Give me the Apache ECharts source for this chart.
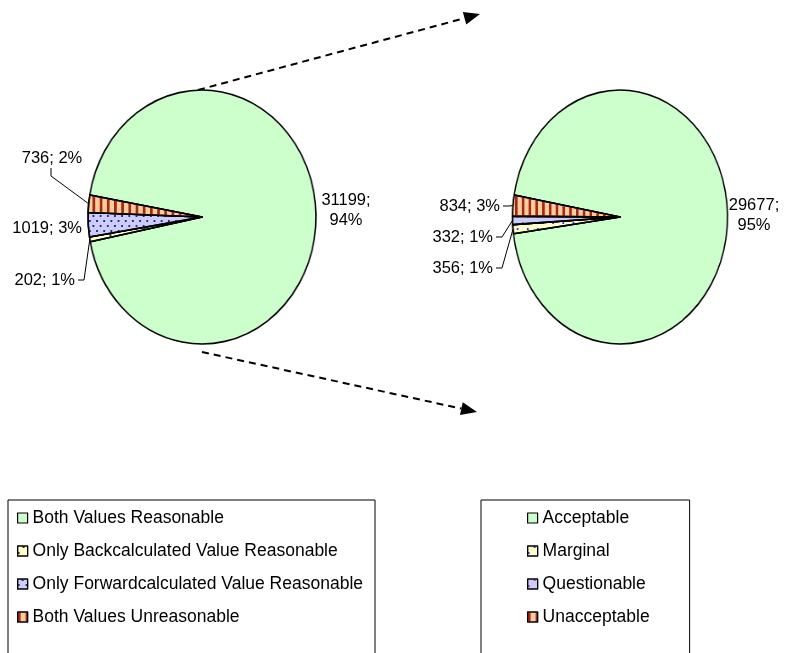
<!DOCTYPE html>
<html>
<head>
<meta charset="utf-8">
<script src="https://cdn.jsdelivr.net/npm/echarts@6/dist/echarts.min.js"></script>
<style>
  html, body { margin: 0; padding: 0; background: #fff; }
  #wrap { position: relative; width: 786px; height: 653px; overflow: hidden; }
  #wrap > div { position: absolute; left: 0; top: 0; width: 786px; height: 653px; }
</style>
</head>
<body>
<div id="wrap">
  <div id="annot"></div>
  <div id="pieL"></div>
  <div id="pieR"></div>
</div>
<script>
// ---- data ----
const leftNames = [
  'Both Values Reasonable',
  'Only Backcalculated Value Reasonable',
  'Only Forwardcalculated Value Reasonable',
  'Both Values Unreasonable'
];
const leftValues = [31199, 202, 1019, 736];

const rightNames = ['Acceptable', 'Marginal', 'Questionable', 'Unacceptable'];
const rightValues = [29677, 356, 332, 834];

// ---- styling ----
const FONT = "'Liberation Sans', Arial, sans-serif";
const START = 170;

const stripes = { symbol: 'rect', symbolSize: 1, dashArrayX: [2.2, 4.8], dashArrayY: [1, 0], color: '#9e2a1a' };
const navyDots = { symbol: 'rect', symbolSize: 1, dashArrayX: [[2, 6], [0, 4, 2, 2]], dashArrayY: [2, 3], color: '#2a2a66' };
const sparseDark = { symbol: 'rect', symbolSize: 1, dashArrayX: [[1.5, 9], [0, 5, 1.5, 4]], dashArrayY: [1.5, 4], color: '#333333' };
const sparseBlue = { symbol: 'rect', symbolSize: 1, dashArrayX: [[1.8, 10], [0, 6, 1.8, 4]], dashArrayY: [1.8, 4], color: '#3a3acc' };
const sparseRed = { symbol: 'rect', symbolSize: 1, dashArrayX: [[1.8, 10], [0, 6, 1.8, 4]], dashArrayY: [1.8, 4], color: '#c0306a' };

const leftFills = [
  { color: '#CCFFCC' },
  { color: '#FFFFCC', decal: sparseDark },
  { color: '#CCCCFF', decal: navyDots },
  { color: '#FFCC99', decal: stripes }
];
const rightFills = [
  { color: '#CCFFCC' },
  { color: '#FFFFCC', decal: sparseBlue },
  { color: '#CCCCFF', decal: sparseRed },
  { color: '#FFCC99', decal: stripes }
];

// pie geometry (elliptical pies: circle of radius ry squeezed horizontally to rx)
const GEO = {
  left:  { cx: 202, cy: 217, rx: 114, ry: 127 },
  right: { cx: 620, cy: 217, rx: 107.5, ry: 127 }
};

function buildData(names, values, fills, noLine) {
  return names.map((n, i) => {
    const item = {
      name: n,
      value: values[i],
      itemStyle: Object.assign({ borderColor: '#000', borderWidth: 1.6 }, fills[i])
    };
    if (noLine.indexOf(i) >= 0) item.labelLine = { show: false };
    return item;
  });
}

// ---- the slices, drawn in squeezed layers ----
function drawPie(el, key, names, values, fills) {
  const g = GEO[key];
  el.style.transformOrigin = g.cx + 'px 0px';
  el.style.transform = 'scaleX(' + (g.rx / g.ry) + ')';
  const chart = echarts.init(el, null, { renderer: 'canvas' });
  chart.setOption({
    animation: false,
    series: [{
      type: 'pie',
      silent: true,
      center: [g.cx, g.cy],
      radius: g.ry,
      startAngle: START,
      clockwise: true,
      label: { show: false },
      labelLine: { show: false },
      emphasis: { disabled: true },
      data: buildData(names, values, fills, [])
    }]
  });
}
drawPie(document.getElementById('pieL'), 'left', leftNames, leftValues, leftFills);
drawPie(document.getElementById('pieR'), 'right', rightNames, rightValues, rightFills);

// ---- labels, legends, arrows ----
const leftSpots = [
  { x: 346, y: 210, align: 'center' },
  { x: 75, y: 280, align: 'right', elbow: [84, 280], tail: [78, 280] },
  { x: 82, y: 228, align: 'right' },
  { x: 52, y: 158, align: 'center', elbow: [51, 176], tail: [51, 168] }
];
const rightSpots = [
  { x: 754, y: 215, align: 'center' },
  { x: 493, y: 268, align: 'right', elbow: [502, 268], tail: [496, 268] },
  { x: 493, y: 237, align: 'right', elbow: [502, 237], tail: [496, 237] },
  { x: 500, y: 206, align: 'right', elbow: [509, 206], tail: [503, 206] }
];

function layoutFor(key, spots) {
  const g = GEO[key];
  return function (p) {
    const s = spots[p.dataIndex];
    const out = { x: s.x, y: s.y, align: s.align, verticalAlign: 'middle' };
    if (s.elbow && p.labelLinePoints) {
      const e = p.labelLinePoints[0];
      const dx = e[0] - g.cx, dy = e[1] - g.cy;
      const len = Math.hypot(dx, dy) || 1;
      const edge = [g.cx + dx / len * g.rx, g.cy + dy / len * g.ry];
      out.labelLinePoints = [edge, s.elbow, s.tail];
    }
    return out;
  };
}

function labelSeries(key, names, values, fills, spots, noLine) {
  const g = GEO[key];
  return {
    type: 'pie',
    silent: true,
    center: [g.cx, g.cy],
    radius: 2,
    startAngle: START,
    clockwise: true,
    percentPrecision: 0,
    emphasis: { disabled: true },
    label: {
      show: true,
      position: 'outside',
      color: '#000',
      fontSize: 16.5,
      fontFamily: FONT,
      lineHeight: 20,
      formatter: p => p.dataIndex === 0
        ? p.value + ';\n' + p.percent + '%'
        : p.value + '; ' + p.percent + '%'
    },
    labelLine: { show: true, lineStyle: { color: '#000', width: 1 } },
    labelLayout: layoutFor(key, spots),
    data: buildData(names, values, fills, noLine)
  };
}

function arrow(from, tip, head, half) {
  const dx = tip[0] - from[0], dy = tip[1] - from[1];
  const L = Math.hypot(dx, dy);
  const ux = dx / L, uy = dy / L;
  const bx = tip[0] - ux * head, by = tip[1] - uy * head;
  return [
    { type: 'line', silent: true,
      shape: { x1: from[0], y1: from[1], x2: bx, y2: by },
      style: { stroke: '#000', lineWidth: 2, lineDash: [7, 5] } },
    { type: 'polygon', silent: true,
      shape: { points: [tip, [bx - uy * half, by + ux * half], [bx + uy * half, by - ux * half]] },
      style: { fill: '#000' } }
  ];
}

// legend boxes run past the bottom edge, so only three sides show
const legendBase = {
  orient: 'vertical',
  top: 500,
  height: 220,
  icon: 'rect',
  itemWidth: 10,
  itemHeight: 10,
  itemGap: 15,
  borderColor: '#000',
  borderWidth: 1,
  selectedMode: false,
  itemStyle: { borderColor: '#000', borderWidth: 1.2 },
  textStyle: { fontSize: 17.5, color: '#000', fontFamily: FONT, lineHeight: 17 }
};

const annot = echarts.init(document.getElementById('annot'), null, { renderer: 'canvas' });
annot.setOption({
  animation: false,
  backgroundColor: '#fff',
  legend: [
    Object.assign({}, legendBase, { data: leftNames, left: 8, padding: [9, 12, 40, 9] }),
    Object.assign({}, legendBase, { data: rightNames, left: 481, padding: [9, 40, 40, 46] })
  ],
  graphic: [].concat(
    arrow([198, 90], [480, 14], 16, 6.5),
    arrow([202, 352], [477, 412], 16, 6.5)
  ),
  series: [
    labelSeries('left', leftNames, leftValues, leftFills, leftSpots, [0, 2]),
    labelSeries('right', rightNames, rightValues, rightFills, rightSpots, [0])
  ]
});
</script>
</body>
</html>
